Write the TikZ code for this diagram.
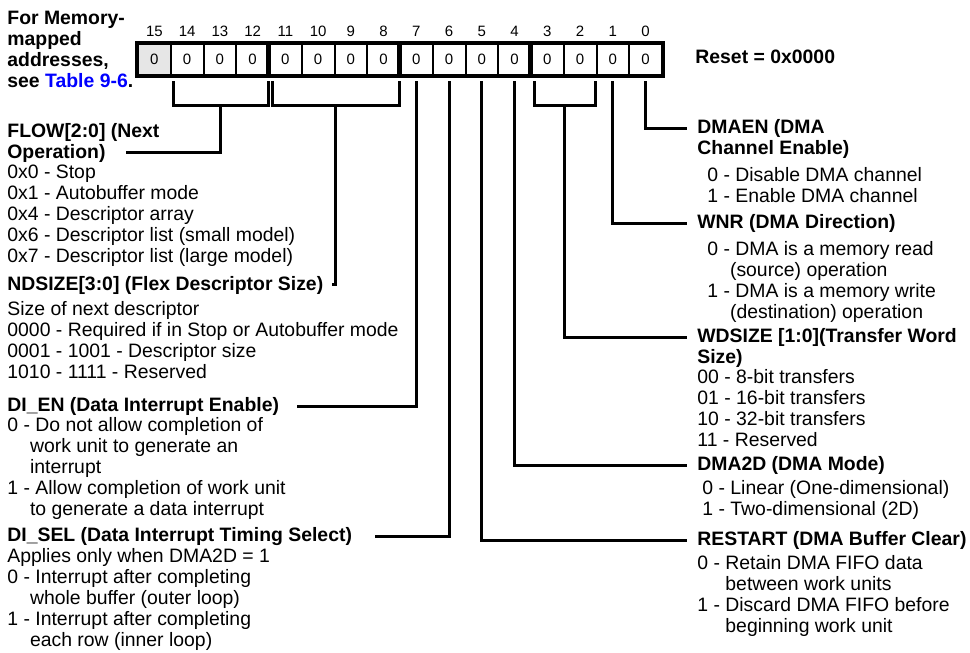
\documentclass[tikz,border=0pt]{standalone}
\usepackage{fontspec}
\setmainfont{Liberation Sans}
\usetikzlibrary{positioning,calc}
\definecolor{tableblue}{HTML}{0000FF}
\definecolor{cellgray}{HTML}{E6E6E6}
\newcommand{\contind}{\phantom{0 -}}
\newcommand{\contindw}{\phantom{0 - }}

\begin{document}
\begin{tikzpicture}[
      x=0.5pt,y=-0.5pt,
      cell/.style={draw,line width=1pt,fill=white,minimum width=16.375pt,
                   minimum height=15.5pt,inner sep=0pt,font=\fontsize{7.5}{8}\selectfont},
      bitno/.style={inner sep=0pt,font=\fontsize{7.5}{8}\selectfont},
      frame/.style={line width=2pt},
      nibble/.style={line width=2.5pt},
      wire/.style={line width=1.5pt},
      head/.style={anchor=base west,inner sep=0pt,font=\bfseries\fontsize{9.7}{10.5}\selectfont},
      body/.style={anchor=north west,inner sep=0pt,align=left,font=\fontsize{9.7}{10.5}\selectfont}
    ]
    \useasboundingbox (0,0) rectangle (970,653);

    % register cells
    \foreach \i in {0,...,14}
      \node[cell] (b\i) at ({138+32.75*(15.5-\i)},59.5) {0};
    \node[cell,fill=cellgray] (b15) at ({138+32.75*0.5},59.5) {0};
    \foreach \i in {0,...,15}
      \node[bitno,above=3pt of b\i] (n\i) {\i};
    \draw[frame] (b15.north west) rectangle (b0.south east);
    \foreach \j in {11,7,3}
      \draw[nibble] (b\j.north west) -- (b\j.south west);

    \node[body,font=\bfseries\fontsize{9.7}{10.5}\selectfont] (note) at (7,11)
      {For Memory-\\mapped\\addresses,\\see \textcolor{tableblue}{Table 9-6}.};
    \node[head] (reset) at (695,63.5) {Reset = 0x0000};

    % left column
    \node[head] (flowtop) at (7,137) {FLOW[2:0] (Next};
    \node[head] (flowhead) at (7,158) {Operation)};
    \node[body] (flowbody) at (7,165) {0x0 - Stop\\0x1 - Autobuffer mode\\0x4 - Descriptor array\\
      0x6 - Descriptor list (small model)\\0x7 - Descriptor list (large model)};
    \node[head] (ndhead) at (7,290) {NDSIZE[3:0] (Flex Descriptor Size)};
    \node[body] (ndbody) at (7,301) {Size of next descriptor\\0000 - Required if in Stop or Autobuffer mode\\
      0001 - 1001 - Descriptor size\\1010 - 1111 - Reserved};
    \node[head] (dienhead) at (7,411.5) {DI\_EN (Data Interrupt Enable)};
    \node[body] (dienbody) at (7,417.5) {0 - Do not allow completion of\\\contind work unit to generate an\\
      \contind interrupt\\1 - Allow completion of work unit\\\contind to generate a data interrupt};
    \node[head] (dselhead) at (7,541.5) {DI\_SEL (Data Interrupt Timing Select)};
    \node[body] (dselbody) at (7,548.5) {Applies only when DMA2D = 1\\0 - Interrupt after completing\\
      \contind whole buffer (outer loop)\\1 - Interrupt after completing\\\contind each row (inner loop)};

    % right column
    \node[head] (dmaenhead) at (697,133.5) {DMAEN (DMA};
    \node[head] (dmaenname) at (697,154.5) {Channel Enable)};
    \node[body] (dmaenbody) at (707,167.5) {0 - Disable DMA channel\\1 - Enable DMA channel};
    \node[head] (wnrhead) at (697,228.5) {WNR (DMA Direction)};
    \node[body] (wnrbody) at (707,241.5) {0 - DMA is a memory read\\\contind(source) operation\\
      1 - DMA is a memory write\\\contind(destination) operation};
    \node[head] (wdhead) at (697,342.5) {WDSIZE [1:0](Transfer Word};
    \node[head] (wdname) at (697,363.5) {Size)};
    \node[body] (wdbody) at (697,369.5) {00 - 8-bit transfers\\01 - 16-bit transfers\\
      10 - 32-bit transfers\\11 - Reserved};
    \node[head] (dmahead) at (697,470.5) {DMA2D (DMA Mode)};
    \node[body] (dmabody) at (702,480.5) {0 - Linear (One-dimensional)\\1 - Two-dimensional (2D)};
    \node[head] (resthead) at (697,545.5) {RESTART (DMA Buffer Clear)};
    \node[body] (restbody) at (697,555.5) {0 - Retain DMA FIFO data\\\contindw between work units\\
      1 - Discard DMA FIFO before\\\contindw beginning work unit};

    % brackets for multi-bit fields
    \coordinate (flowL) at ($(b14.south west)+(2pt,-2.5pt)$);
    \coordinate (flowR) at ($(b12.south east)+(-1pt,-2.5pt)$);
    \coordinate (ndL) at ($(b11.south west)+(2pt,-2.5pt)$);
    \coordinate (ndR) at ($(b8.south east)+(-1pt,-2.5pt)$);
    \coordinate (wdL) at ($(b3.south west)+(2pt,-2.5pt)$);
    \coordinate (wdR) at ($(b2.south east)+(-1pt,-2.5pt)$);
    \draw[wire] (flowL) -- ++(0pt,-12pt) -| (flowR);
    \draw[wire] (ndL) -- ++(0pt,-12pt) -| (ndR);
    \draw[wire] (wdL) -- ++(0pt,-12pt) -| (wdR);
    \coordinate (flowmid) at ($(flowL)!.5!(flowR)+(0pt,-12pt)$);
    \coordinate (ndmid) at ($(ndL)!.5!(ndR)+(0pt,-12pt)$);
    \coordinate (wdmid) at ($(wdL)!.5!(wdR)+(0pt,-12pt)$);

    % connectors
    \draw[wire] (flowmid) |- ([xshift=10pt]flowhead.east);
    \draw[wire] (ndmid) |- ([xshift=4pt]ndhead.east);
    \draw[wire] ([yshift=-2.5pt]b7.south) |- ([xshift=9pt]dienhead.east);
    \draw[wire] ([yshift=-2.5pt]b6.south) |- ([xshift=11.5pt]dselhead.east);
    \draw[wire] ([yshift=-2.5pt]b5.south) |- ([xshift=-5pt]resthead.west);
    \draw[wire] ([yshift=-2.5pt]b4.south) |- ([xshift=-5pt]dmahead.west);
    \draw[wire] (wdmid) |- ([xshift=-5pt]wdhead.west);
    \draw[wire] ([yshift=-2.5pt]b1.south) |- ([xshift=-5pt]wnrhead.west);
    \draw[wire] ([yshift=-2.5pt]b0.south) |- ([xshift=-5pt]dmaenhead.west);
  \end{tikzpicture}
\end{document}
